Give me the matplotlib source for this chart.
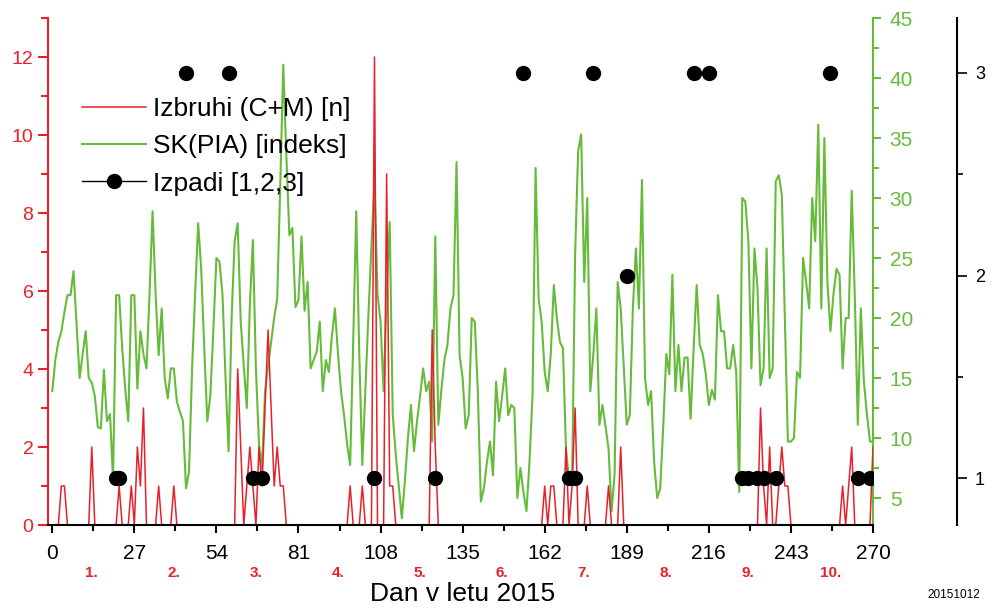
import numpy as np
import matplotlib
matplotlib.use("Agg")
import matplotlib.pyplot as plt
from matplotlib.ticker import MultipleLocator
from matplotlib.lines import Line2D
import matplotlib.transforms as mtransforms

plt.rcParams['font.family'] = ['Liberation Sans', 'DejaVu Sans']

# izbruhi (C+M), dnevno stevilo, dan 0..270
izbruhi = [
    0, 0, 0, 1, 1, 0, 0, 0, 0, 0,
    0, 0, 0, 2, 0, 0, 0, 0, 0, 0,
    0, 0, 1, 0, 0, 0, 1, 0, 2, 1,
    3, 0, 0, 0, 0, 1, 0, 0, 0, 0,
    1, 0, 0, 0, 0, 0, 0, 0, 0, 0,
    0, 0, 0, 0, 0, 0, 0, 0, 0, 0,
    0, 4, 2, 0, 1, 2, 1, 0, 2, 1,
    3, 5, 3, 1, 2, 1, 1, 0, 0, 0,
    0, 0, 0, 0, 0, 0, 0, 0, 0, 0,
    0, 0, 0, 0, 0, 0, 0, 0, 1, 0,
    0, 0, 1, 0, 0, 0, 12, 0, 0, 0,
    9, 1, 1, 0, 0, 0, 0, 0, 0, 0,
    0, 0, 0, 0, 0, 5, 2, 0, 0, 0,
    0, 0, 0, 0, 0, 0, 0, 0, 0, 0,
    0, 0, 0, 0, 0, 0, 0, 0, 0, 0,
    0, 0, 0, 0, 0, 0, 0, 0, 0, 0,
    0, 0, 1, 0, 1, 1, 0, 0, 0, 2,
    0, 1, 3, 0, 0, 0, 1, 0, 0, 0,
    0, 0, 0, 1, 0, 0, 0, 2, 0, 0,
    0, 0, 0, 0, 0, 0, 0, 0, 0, 0,
    0, 0, 0, 0, 0, 0, 0, 0, 0, 0,
    0, 0, 0, 0, 0, 0, 0, 0, 0, 0,
    0, 0, 0, 0, 0, 0, 0, 0, 0, 0,
    0, 0, 0, 3, 1, 0, 2, 0, 0, 1,
    2, 1, 1, 0, 0, 0, 0, 0, 0, 0,
    0, 0, 0, 0, 0, 0, 0, 0, 0, 0,
    1, 0, 1, 2, 0, 0, 0, 0, 0, 0,
    2,
]

# SK(PIA) indeks, dan 0..270
sk_pia = [
    13.9, 16.5, 18.0, 18.9, 20.5, 21.9, 21.9, 23.9, 19.5, 15.0,
    17.0, 18.9, 15.0, 14.6, 13.5, 10.9, 10.8, 15.7, 11.4, 12.0,
    6.5, 21.9, 21.9, 17.5, 14.1, 11.4, 21.9, 21.9, 14.1, 18.9,
    17.0, 15.8, 22.0, 28.9, 22.0, 16.9, 20.8, 15.0, 13.3, 15.8,
    15.8, 13.0, 12.2, 11.4, 5.8, 7.2, 15.8, 22.0, 27.9, 24.1,
    17.5, 11.4, 13.5, 19.0, 25.0, 24.7, 22.0, 15.0, 8.9, 20.0,
    26.4, 27.9, 19.7, 16.0, 12.5, 21.0, 26.5, 15.8, 9.5, 7.5,
    13.9, 16.0, 18.0, 20.0, 21.6, 31.0, 41.1, 33.6, 26.9, 27.5,
    20.9, 21.5, 26.8, 20.6, 23.0, 15.8, 16.5, 17.2, 19.7, 13.9,
    16.5, 15.5, 18.5, 20.8, 17.0, 13.9, 11.9, 9.5, 7.75, 18.0,
    28.9, 17.0, 7.75, 14.0, 20.25, 26.0, 31.5, 22.0, 19.7, 13.9,
    22.0, 28.0, 12.0, 8.6, 6.0, 3.3, 6.4, 10.0, 12.75, 8.9,
    11.4, 13.5, 15.8, 13.9, 14.7, 9.7, 26.8, 11.1, 14.0, 16.5,
    17.75, 20.8, 21.9, 33.0, 16.9, 15.0, 10.8, 11.9, 20.0, 19.7,
    13.9, 4.7, 5.8, 8.0, 9.7, 6.9, 14.7, 11.4, 13.5, 15.8,
    11.9, 12.75, 12.5, 5.0, 7.5, 5.5, 3.9, 8.0, 13.6, 32.5,
    21.6, 19.7, 15.5, 13.9, 17.0, 22.75, 20.0, 18.0, 17.5, 9.1,
    6.5, 6.0, 25.25, 33.9, 35.3, 23.0, 30.0, 13.9, 17.0, 20.8,
    11.1, 12.75, 11.0, 9.1, 3.9, 7.0, 23.0, 20.8, 16.0, 11.1,
    11.9, 20.8, 25.8, 20.8, 31.5, 15.0, 12.75, 13.9, 8.0, 5.0,
    5.8, 11.0, 17.0, 15.3, 23.6, 13.9, 17.75, 13.9, 16.7, 16.7,
    11.6, 17.5, 22.75, 17.75, 17.0, 15.3, 12.75, 14.0, 13.2, 21.9,
    18.9, 18.9, 15.8, 15.8, 17.75, 15.5, 5.5, 30.0, 29.7, 26.4,
    15.8, 25.8, 22.5, 14.4, 15.8, 25.8, 15.0, 15.8, 31.4, 31.9,
    30.3, 20.0, 9.7, 9.7, 10.0, 15.5, 15.0, 25.0, 23.0, 20.8,
    30.0, 26.4, 36.1, 20.8, 35.0, 23.0, 18.9, 22.0, 24.1, 23.6,
    15.8, 20.0, 20.0, 30.6, 21.9, 11.1, 20.8, 14.7, 12.0, 9.7,
    9.7,
]

# izpadi: dan in stopnja
izpadi_dan = [21, 22, 44, 58, 66, 69, 106, 126, 155, 170, 172, 178, 189,
              211, 216, 227, 229, 232, 234, 238, 256, 265, 269]
izpadi_st = [1, 1, 3, 3, 1, 1, 1, 1, 3, 1, 1, 3, 2,
             3, 3, 1, 1, 1, 1, 1, 3, 1, 1]

meseci = ['1.', '2.', '3.', '4.', '5.', '6.', '7.', '8.', '9.', '10.']

dan1 = np.arange(len(izbruhi))
dan2 = np.arange(len(sk_pia))

RED = '#e8202a'
GREEN = '#66bb3a'

fig = plt.figure(figsize=(9.92, 6.08), dpi=100)
ax = fig.add_axes([48/992, 1-525/608, 825/992, 507/608])
ax2 = ax.twinx()
ax3 = ax.twinx()

ax2.set_zorder(1)
ax.set_zorder(2)
ax3.set_zorder(3)
ax.patch.set_visible(False)
ax3.patch.set_visible(False)

ax2.plot(dan2, sk_pia, color=GREEN, lw=1.5)
ax.plot(dan1, izbruhi, color=RED, lw=1.1)
ax3.plot(izpadi_dan, izpadi_st, 'o', color='black', ms=10, ls='none')

ax.set_xlim(-1.4, 270)
ax.set_ylim(0, 13)
ax2.set_ylim(2.75, 45)
ax3.set_ylim(0.77, 3.27)

# osi
for a in (ax, ax2, ax3):
    a.spines['top'].set_visible(False)
ax.spines['right'].set_visible(False)
ax2.spines['left'].set_visible(False)
ax2.spines['bottom'].set_visible(False)
ax3.spines['left'].set_visible(False)
ax3.spines['bottom'].set_visible(False)
ax3.spines['right'].set_position(('outward', 60.5))

ax.spines['left'].set_color(RED)
ax.spines['left'].set_linewidth(1.5)
ax.spines['bottom'].set_linewidth(1.5)
ax2.spines['right'].set_color(GREEN)
ax2.spines['right'].set_linewidth(1.5)
ax3.spines['right'].set_linewidth(1.5)

ax.xaxis.set_major_locator(MultipleLocator(27))
ax.xaxis.set_minor_locator(MultipleLocator(13.5))
ax.yaxis.set_major_locator(MultipleLocator(2))
ax.yaxis.set_minor_locator(MultipleLocator(1))
ax2.yaxis.set_major_locator(MultipleLocator(5))
ax2.yaxis.set_minor_locator(MultipleLocator(2.5))
ax3.yaxis.set_major_locator(MultipleLocator(1))
ax3.yaxis.set_minor_locator(MultipleLocator(0.5))

ax.tick_params(axis='x', which='major', direction='out', length=6, width=1.5,
               labelsize=15, pad=8)
ax.tick_params(axis='x', which='minor', direction='out', length=4, width=1.5)
ax.tick_params(axis='y', which='major', direction='out', length=7, width=1.5,
               colors=RED, labelsize=14)
ax.tick_params(axis='y', which='minor', direction='out', length=5, width=1.5,
               colors=RED)
ax2.tick_params(axis='y', which='major', direction='out', length=6, width=1.5,
                colors=GREEN, labelsize=15, pad=6)
ax2.tick_params(axis='y', which='minor', direction='out', length=4, width=1.5,
                colors=GREEN)
ax3.tick_params(axis='y', which='major', direction='out', length=7, width=1.2,
                labelsize=13, pad=6)
ax3.tick_params(axis='y', which='minor', direction='out', length=4, width=1.2)

# oznake mesecev
trans = mtransforms.blended_transform_factory(ax.transData, ax.transAxes)
for i, m in enumerate(meseci):
    ax.text(13.5 + 27 * i - 0.6, -0.094, m, transform=trans, ha='center',
            va='center', color=RED, fontsize=11, fontweight='bold')

ax.text(0.502, -0.137, 'Dan v letu 2015', transform=ax.transAxes, ha='center',
        va='center', fontsize=19)
fig.text(0.962, 0.021, '20151012', ha='center', va='center', fontsize=8.5)

handles = [
    Line2D([], [], color=RED, lw=1.1),
    Line2D([], [], color=GREEN, lw=1.5),
    Line2D([], [], color='black', lw=1, marker='o', ms=10),
]
labels = ['Izbruhi (C+M) [n]', 'SK(PIA) [indeks]', 'Izpadi [1,2,3]']
ax3.legend(handles, labels, loc='upper left', bbox_to_anchor=(0.083, 0.84),
           bbox_transform=fig.transFigure, frameon=False, fontsize=19,
           handlelength=2.4, handletextpad=0.27, labelspacing=0.5,
           borderpad=0, borderaxespad=0)

fig.savefig('out.png', dpi=100)
